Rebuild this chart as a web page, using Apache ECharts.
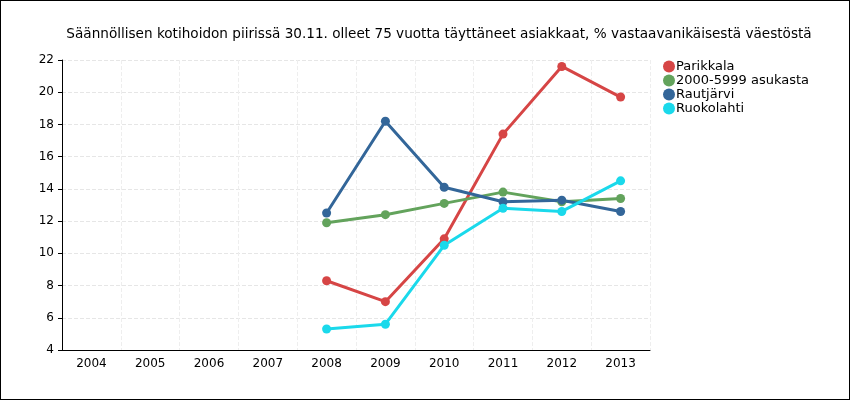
<!DOCTYPE html>
<html>
<head>
<meta charset="utf-8">
<script src="https://cdn.jsdelivr.net/npm/echarts@6/dist/echarts.min.js"></script>
<style>
  html, body { margin: 0; padding: 0; background: #fff; }
  #plot { width: 848px; height: 398px; border: 1px solid #000; }
</style>
</head>
<body>
<div id="plot"></div>
<script>
// Chart data
const years = ["2004", "2005", "2006", "2007", "2008", "2009", "2010", "2011", "2012", "2013"];
const parikkala = [null, null, null, null, 8.3, 7.0, 10.9, 17.4, 21.6, 19.7];
const asukasta = [null, null, null, null, 11.9, 12.4, 13.1, 13.8, 13.2, 13.4];
const rautjarvi = [null, null, null, null, 12.5, 18.2, 14.1, 13.2, 13.3, 12.6];
const ruokolahti = [null, null, null, null, 5.3, 5.6, 10.5, 12.8, 12.6, 14.5];

const names = ["Parikkala", "2000-5999 asukasta", "Rautjärvi", "Ruokolahti"];
const colors = ["#d64545", "#63a35c", "#336699", "#1ad9eb"];
const values = [parikkala, asukasta, rautjarvi, ruokolahti];

const chart = echarts.init(document.getElementById("plot"));

const option = {
    color: colors,
    textStyle: { fontFamily: "DejaVu Sans" },
    title: {
        text: "Säännöllisen kotihoidon piirissä 30.11. olleet 75 vuotta täyttäneet asiakkaat, % vastaavanikäisestä väestöstä",
        left: 433, top: 21, textAlign: "center",
        textStyle: { fontSize: 13.6, fontWeight: "normal", color: "#000", fontFamily: "DejaVu Sans" }
    },
    legend: {
        orient: "vertical", left: 657, top: 54,
        itemGap: 1, itemWidth: 12, itemHeight: 12, icon: "circle",
        textStyle: { fontSize: 13, color: "#000", padding: [0, 0, 0, -4] }
    },
    grid: { left: 61, right: 199, top: 59, bottom: 49 },
    xAxis: {
        type: "category", data: years, boundaryGap: true,
        axisLine: { lineStyle: { color: "#000" } },
        axisTick: { show: false },
        axisLabel: { color: "#000", fontSize: 12 },
        splitLine: { show: true, lineStyle: { type: "dashed", color: "#eee" } }
    },
    yAxis: {
        type: "value", min: 4, max: 22, interval: 2,
        axisLine: { show: true, lineStyle: { color: "#000" } },
        axisTick: { show: true, length: 4 },
        axisLabel: { color: "#000", fontSize: 12 },
        splitLine: { lineStyle: { type: "dashed", color: "#e6e6e6" } }
    },
    series: names.map((n, i) => ({
        name: n, type: "line", data: values[i],
        symbol: "circle", symbolSize: 9,
        lineStyle: { width: 3 }
    }))
};

chart.setOption(option);
</script>
</body>
</html>
